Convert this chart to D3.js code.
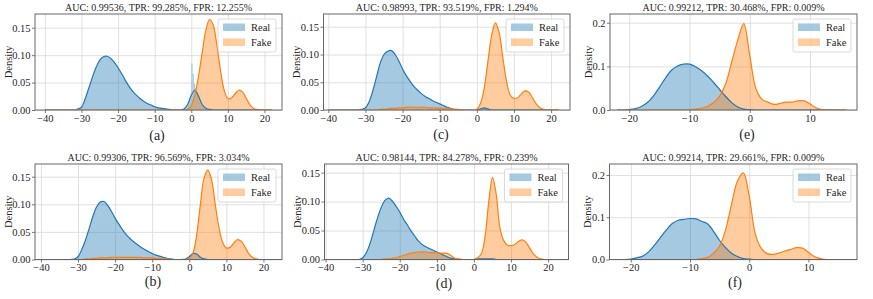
<!DOCTYPE html>
<html lang="en">
<head>
<meta charset="utf-8">
<title>Real vs Fake score densities</title>
<script src="https://cdn.jsdelivr.net/npm/d3@7"></script>
<style>
  body { margin: 0; background: #fff; }
</style>
</head>
<body>
<svg id="fig" width="873" height="299"></svg>
<script>
// ---- data (densities, 1 unit apart) ----
var gridWide = d3.range(-40, 23);    // x for (a)-(d)
var gridNarrow = d3.range(-22, 17);  // x for (e),(f)

var titles = [
  "AUC: 0.99536, TPR: 99.285%, FPR: 12.255%",
  "AUC: 0.99306, TPR: 96.569%, FPR: 3.034%",
  "AUC: 0.98993, TPR: 93.519%, FPR: 1.294%",
  "AUC: 0.98144, TPR: 84.278%, FPR: 0.239%",
  "AUC: 0.99212, TPR: 30.468%, FPR: 0.009%",
  "AUC: 0.99214, TPR: 29.661%, FPR: 0.009%"
];
var labels = ["(a)", "(b)", "(c)", "(d)", "(e)", "(f)"];
var seriesNames = ["Real", "Fake"];

var xTicksWide = [-40, -30, -20, -10, 0, 10, 20];
var xTicksNarrow = [-20, -10, 0, 10];
var yTicksSmall = [0, 0.05, 0.10, 0.15];
var yTicksLarge = [0, 0.1, 0.2];

var realA = [0,0,0,0,0,0,0,0,0,
  0.002,0.005,0.02,0.04,0.06,0.078,0.091,0.097,0.098,0.094,0.087,0.077,0.066,0.054,0.043,0.034,0.027,0.021,0.016,0.012,0.009,0.006,0.004,0.003,0.002,0.001,0,0,0,0.002,0.01,0.027,0.036,0.025,0.01,0.003,0.001,
  0,0,0,0,0,0,0,0,0,0,0,0,0,0,0,0,0];
var fakeA = [0,0,0,0,0,0,0,0,0,0,0,0,0,0,0,0,0,0,0,0,0,0,0,0,0,0,0,0,0,0,0,0,0,0,0,0,0,0,0,
  0.001,0.008,0.028,0.062,0.105,0.145,0.165,0.155,0.118,0.072,0.036,0.021,0.022,0.03,0.036,0.033,0.022,0.01,0.003,0.001,
  0,0,0,0];
// tall histogram bars of Real near 0 in (a)
var spikeA_x0 = [0.0, 0.35, 0.7, 1.05];
var spikeA_y = [0.085, 0.066, 0.048, 0.04];

var realB = [0,0,0,0,0,0,0,0,0,
  0.001,0.005,0.018,0.035,0.056,0.078,0.095,0.104,0.105,0.098,0.087,0.075,0.064,0.054,0.045,0.038,0.032,0.027,0.022,0.018,0.014,0.011,0.008,0.006,0.004,0.002,0.001,0,0,0,0.001,0.005,0.011,0.01,0.004,0.001,0,
  0,0,0,0,0,0,0,0,0,0,0,0,0,0,0,0,0];
var fakeB = [0,0,0,0,0,0,0,0,0,0,0,0,
  0.001,0.001,0.002,0.002,0.003,0.003,0.003,0.004,0.004,0.004,0.004,0.004,0.004,0.004,0.004,0.004,0.003,0.003,0.003,0.002,0.002,0.001,0.001,0,0,0,0,0,
  0.002,0.012,0.045,0.1,0.148,0.162,0.145,0.1,0.058,0.031,0.021,0.022,0.03,0.036,0.033,0.023,0.011,0.004,0.001,
  0,0,0,0];

var realC = [0,0,0,0,0,0,0,0,0,
  0.001,0.004,0.015,0.035,0.06,0.085,0.1,0.106,0.107,0.1,0.088,0.074,0.062,0.052,0.043,0.036,0.03,0.025,0.021,0.017,0.014,0.011,0.008,0.005,0.003,0.001,0,0,0,0,0,0,0.002,0.004,0.002,0,0,
  0,0,0,0,0,0,0,0,0,0,0,0,0,0,0,0,0];
var fakeC = [0,0,0,0,0,0,0,0,0,0,0,0,0,0,
  0.001,0.001,0.002,0.003,0.003,0.004,0.004,0.005,0.005,0.005,0.005,0.005,0.005,0.004,0.004,0.004,0.003,0.003,0.002,0.002,0.001,0.001,0,0,0,0,
  0.001,0.012,0.04,0.088,0.135,0.157,0.14,0.095,0.052,0.027,0.021,0.022,0.029,0.035,0.032,0.022,0.011,0.004,0.001,
  0,0,0,0];

var realD = [0,0,0,0,0,0,0,0,0,
  0,0.003,0.012,0.028,0.05,0.072,0.09,0.102,0.106,0.101,0.092,0.082,0.07,0.06,0.05,0.041,0.032,0.026,0.022,0.019,0.016,0.013,0.01,0.007,0.004,0.002,0.001,0,0,0,0,0,0.001,0.001,0.001,0.001,0.001,
  0,0,0,0,0,0,0,0,0,0,0,0,0,0,0,0,0];
var fakeD = [0,0,0,0,0,0,0,0,0,0,0,0,0,0,0,0,
  0.001,0.001,0.002,0.003,0.005,0.007,0.009,0.011,0.012,0.013,0.013,0.013,0.012,0.012,0.012,0.011,0.011,0.01,0.006,0.002,0.001,0,0,0,0,
  0.003,0.01,0.04,0.1,0.142,0.113,0.055,0.033,0.025,0.024,0.026,0.031,0.034,0.03,0.02,0.01,0.004,0.001,
  0,0,0,0];

var realE = [0,0,0.001,0.003,0.008,0.017,0.032,0.052,0.073,0.091,0.101,0.105,0.105,0.099,0.09,0.078,0.063,0.047,0.031,0.017,0.007,0.002,0.001,
  0,0,0,0,0,0,0,0,0,0,0,0,0,0,0,0];
var fakeE = [0,0,0,0,0,0,0,0,0,0,0,0,0,
  0.002,0.004,0.008,0.017,0.032,0.06,0.11,0.16,0.198,0.125,0.05,0.025,0.018,0.013,0.015,0.018,0.018,0.021,0.021,0.014,0.005,0.001,
  0,0,0,0];

var realF = [0,0,0.001,0.004,0.008,0.018,0.034,0.052,0.07,0.085,0.093,0.095,0.097,0.096,0.09,0.084,0.066,0.045,0.028,0.015,0.007,0.002,0.001,
  0,0,0,0,0,0,0,0,0,0,0,0,0,0,0,0];
var fakeF = [0,0,0,0,0,0,0,0,0,0,0,0,0,0,
  0.002,0.005,0.015,0.032,0.07,0.13,0.185,0.205,0.15,0.062,0.027,0.014,0.012,0.015,0.02,0.024,0.028,0.027,0.017,0.007,0.002,
  0,0,0,0];

// ---- layout ----
var blue = "#1f77b4", orange = "#ff7f0e";
var alpha = 0.4;
var serif = "Liberation Serif";

var panels = [
  {i:0, x:gridWide, real:realA, fake:fakeA, left:35,    top:14,  w:247,   h:96,   xd:[-42.7,24.8], yd:[0,0.175], xt:xTicksWide,   yt:yTicksSmall, yf:".2f", lab:[157,135]},
  {i:1, x:gridWide, real:realB, fake:fakeB, left:35,    top:164, w:247,   h:95.5, xd:[-41.6,25.0], yd:[0,0.173], xt:xTicksWide,   yt:yTicksSmall, yf:".2f", lab:[153,281]},
  {i:2, x:gridWide, real:realC, fake:fakeC, left:323.5, top:14,  w:246.5, h:96,   xd:[-41.3,25.1], yd:[0,0.173], xt:xTicksWide,   yt:yTicksSmall, yf:".2f", lab:[441,134]},
  {i:3, x:gridWide, real:realD, fake:fakeD, left:324.5, top:164, w:244,   h:95.5, xd:[-40.3,25.5], yd:[0,0.165], xt:xTicksWide,   yt:yTicksSmall, yf:".2f", lab:[444,283]},
  {i:4, x:gridNarrow, real:realE, fake:fakeE, left:610, top:14,  w:247,   h:96,   xd:[-23.2,17.8], yd:[0,0.22],  xt:xTicksNarrow, yt:yTicksLarge, yf:".1f", lab:[747,134]},
  {i:5, x:gridNarrow, real:realF, fake:fakeF, left:609.5, top:164, w:247.5, h:95.5, xd:[-23.6,18.2], yd:[0,0.226], xt:xTicksNarrow, yt:yTicksLarge, yf:".1f", lab:[735,282]}
];

var svg = d3.select("#fig").attr("font-family", serif);
svg.append("rect").attr("width", 873).attr("height", 299).attr("fill", "#fff");
var defs = svg.append("defs");

function txt(sel) {
    return sel.attr("font-family", serif).attr("fill", "#262626");
}

panels.forEach(function (p) {
    var x = d3.scaleLinear().domain(p.xd).range([p.left, p.left + p.w]);
    var y = d3.scaleLinear().domain(p.yd).range([p.top + p.h, p.top]);
    var g = svg.append("g");

    defs.append("clipPath").attr("id", "clip" + p.i)
        .append("rect").attr("x", p.left).attr("y", p.top).attr("width", p.w).attr("height", p.h);

    // grid
    g.append("g").attr("transform", "translate(0," + (p.top + p.h) + ")")
        .call(d3.axisBottom(x).tickValues(p.xt).tickSize(-p.h).tickFormat(""))
        .call(function (a) { a.select(".domain").remove(); a.selectAll("line").attr("stroke", "#dcdcdc").attr("stroke-width", 0.9); });
    g.append("g").attr("transform", "translate(" + p.left + ",0)")
        .call(d3.axisLeft(y).tickValues(p.yt).tickSize(-p.w).tickFormat(""))
        .call(function (a) { a.select(".domain").remove(); a.selectAll("line").attr("stroke", "#dcdcdc").attr("stroke-width", 0.9); });

    var plot = g.append("g").attr("clip-path", "url(#clip" + p.i + ")");

    var area = function (vals) {
        return d3.area().curve(d3.curveCatmullRom.alpha(0.5))
            .x(function (d, k) { return x(p.x[k]); })
            .y0(y(0))
            .y1(function (d) { return y(Math.max(0, d)); })(vals);
    };
    var line = function (vals) {
        return d3.line().curve(d3.curveCatmullRom.alpha(0.5))
            .x(function (d, k) { return x(p.x[k]); })
            .y(function (d) { return y(Math.max(0, d)); })(vals);
    };

    plot.append("path").attr("d", area(p.real)).attr("fill", blue).attr("fill-opacity", alpha);
    if (p.i === 0) {
        plot.selectAll("rect.spike").data(spikeA_y).enter().append("rect")
            .attr("x", function (d, k) { return x(spikeA_x0[k]); })
            .attr("width", function (d, k) { return x(spikeA_x0[k] + 0.35) - x(spikeA_x0[k]); })
            .attr("y", function (d) { return y(d); })
            .attr("height", function (d) { return y(0) - y(d); })
            .attr("fill", d3.interpolateRgb("#fff", blue)(alpha));
    }
    plot.append("path").attr("d", area(p.fake)).attr("fill", orange).attr("fill-opacity", alpha);
    plot.append("path").attr("d", line(p.real)).attr("fill", "none").attr("stroke", blue).attr("stroke-width", 1.2);
    plot.append("path").attr("d", line(p.fake)).attr("fill", "none").attr("stroke", orange).attr("stroke-width", 1.2);

    // axes
    var ax = g.append("g").attr("transform", "translate(0," + (p.top + p.h) + ")")
        .call(d3.axisBottom(x).tickValues(p.xt).tickSize(3).tickPadding(1.5).tickFormat(d3.format("d")));
    var ay = g.append("g").attr("transform", "translate(" + p.left + ",0)")
        .call(d3.axisLeft(y).tickValues(p.yt).tickSize(3).tickPadding(1.5).tickFormat(d3.format(p.yf)));
    [ax, ay].forEach(function (a) {
        a.attr("font-family", serif).attr("font-size", 10.5);
        a.select(".domain").remove();
        a.selectAll("line").attr("stroke", "#555").attr("stroke-width", 0.8);
        txt(a.selectAll("text"));
    });

    // frame
    g.append("rect").attr("x", p.left).attr("y", p.top).attr("width", p.w).attr("height", p.h)
        .attr("fill", "none").attr("stroke", "#666").attr("stroke-width", 1);

    // title, y label, subfigure label
    txt(g.append("text")).attr("x", p.left + p.w / 2).attr("y", p.top - 7)
        .attr("text-anchor", "middle").attr("dominant-baseline", "central")
        .attr("font-size", 10).text(titles[p.i]);
    var ylx = p.left - (p.yf === ".2f" ? 27 : 22);
    txt(g.append("text")).attr("transform", "translate(" + ylx + "," + (p.top + p.h / 2) + ") rotate(-90)")
        .attr("text-anchor", "middle").attr("dominant-baseline", "central")
        .attr("font-size", 10.5).text("Density");
    txt(g.append("text")).attr("x", p.lab[0]).attr("y", p.lab[1])
        .attr("text-anchor", "middle").attr("dominant-baseline", "central")
        .attr("font-size", 14).text(labels[p.i]);

    // legend
    var lx = p.left + p.w - 64, ly = p.top + 5;
    var lg = g.append("g");
    lg.append("rect").attr("x", lx).attr("y", ly).attr("width", 58).attr("height", 33).attr("rx", 2)
        .attr("fill", "#fff").attr("fill-opacity", 0.8).attr("stroke", "#d0d0d0").attr("stroke-width", 0.8);
    seriesNames.forEach(function (s, k) {
        lg.append("rect").attr("x", lx + 5).attr("y", ly + 4.5 + k * 15).attr("width", 22).attr("height", 7.5)
            .attr("fill", k === 0 ? blue : orange).attr("fill-opacity", alpha);
        txt(lg.append("text")).attr("x", lx + 33).attr("y", ly + 8.5 + k * 15)
            .attr("dominant-baseline", "central").attr("font-size", 10.5).text(s);
    });
});
</script>
</body>
</html>
